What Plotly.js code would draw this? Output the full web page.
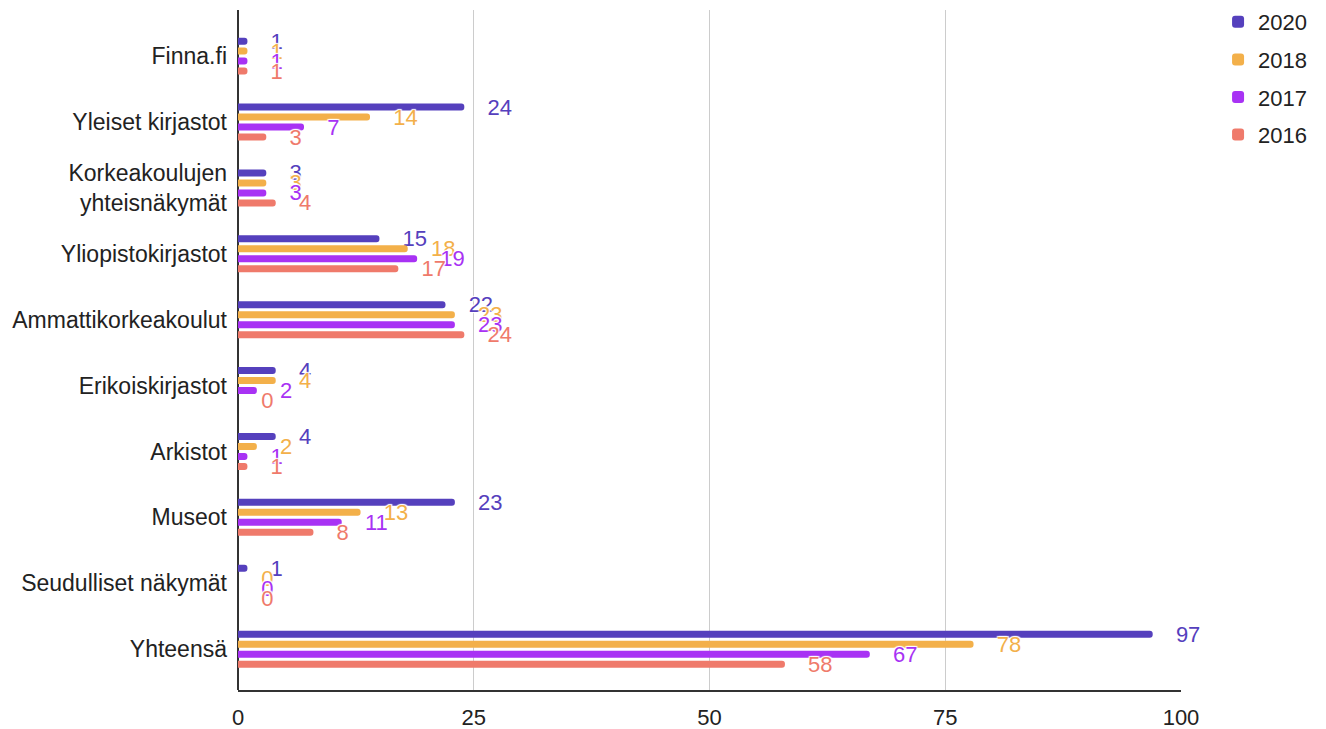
<!DOCTYPE html>
<html>
<head>
<meta charset="utf-8">
<script src="https://cdn.plot.ly/plotly-3.0.1.min.js"></script>
<style>html,body{margin:0;padding:0;background:#fff;}#chart{width:1326px;height:729px;}</style>
</head>
<body>
<div id="chart"></div>
<script>
const categories = ["Finna.fi", "Yleiset kirjastot", "Korkeakoulujen<br>yhteisnäkymät", "Yliopistokirjastot", "Ammattikorkeakoulut", "Erikoiskirjastot", "Arkistot", "Museot", "Seudulliset näkymät", "Yhteensä"];
const seriesNames = ["2020", "2018", "2017", "2016"];
const v2020 = [1, 24, 3, 15, 22, 4, 4, 23, 1, 97];
const v2018 = [1, 14, 3, 18, 23, 4, 2, 13, 0, 78];
const v2017 = [1, 7, 3, 19, 23, 2, 1, 11, 0, 67];
const v2016 = [1, 3, 4, 17, 24, 0, 1, 8, 0, 58];
const xTicks = [0, 25, 50, 75, 100];

const colors = ["#5540bd", "#f3b04a", "#a832f4", "#ef7a6b"];
const allValues = [v2020, v2018, v2017, v2016];
const pad = "\u00a0\u00a0\u00a0\u200a";
const halo = "1px 1px 1px #fff, -1px -1px 1px #fff, 1px -1px 1px #fff, -1px 1px 1px #fff";
const FONT = "Liberation Sans, Arial, sans-serif";

const traces = allValues.map((vals, i) => ({
  type: "bar",
  orientation: "h",
  name: seriesNames[i],
  legendgroup: seriesNames[i],
  y: categories,
  x: vals,
  text: vals.map(String),
  texttemplate: pad + "%{text}",
  textposition: "outside",
  textangle: 0,
  constraintext: "none",
  cliponaxis: false,
  textfont: {family: FONT, size: 22, color: colors[i], shadow: halo},
  marker: {color: colors[i], cornerradius: 4},
  hoverinfo: "x+name"
}));

const layout = {
  width: 1326, height: 729,
  margin: {l: 238, r: 145, t: 10, b: 39, autoexpand: false},
  paper_bgcolor: "#fff", plot_bgcolor: "#fff",
  font: {family: FONT, color: "#222"},
  barmode: "group",
  bargap: 0.393,
  bargroupgap: 0.3,
  showlegend: true,
  legend: {
    xref: "container", yref: "container",
    x: 0.9186, xanchor: "left", y: 0.9986, yanchor: "top",
    font: {size: 22, color: "#222"},
    tracegroupgap: 6,
    traceorder: "grouped"
  },
  xaxis: {
    range: [0, 100],
    tickvals: xTicks,
    ticktext: xTicks.map(String),
    showgrid: true, gridcolor: "#cccccc", gridwidth: 1,
    zeroline: true, zerolinecolor: "#333", zerolinewidth: 1.5,
    showline: true, linecolor: "#333", linewidth: 1.5,
    ticks: "", ticklabelstandoff: 7,
    tickfont: {size: 22, color: "#222"},
    fixedrange: true
  },
  yaxis: {
    type: "category",
    categoryorder: "array",
    categoryarray: categories,
    range: [9.62, -0.70],
    showgrid: false, zeroline: false, showline: false,
    ticks: "", ticklabelstandoff: 10,
    tickfont: {size: 23, color: "#222"},
    fixedrange: true
  }
};

Plotly.newPlot("chart", traces, layout, {displayModeBar: false, staticPlot: true});
</script>
</body>
</html>
